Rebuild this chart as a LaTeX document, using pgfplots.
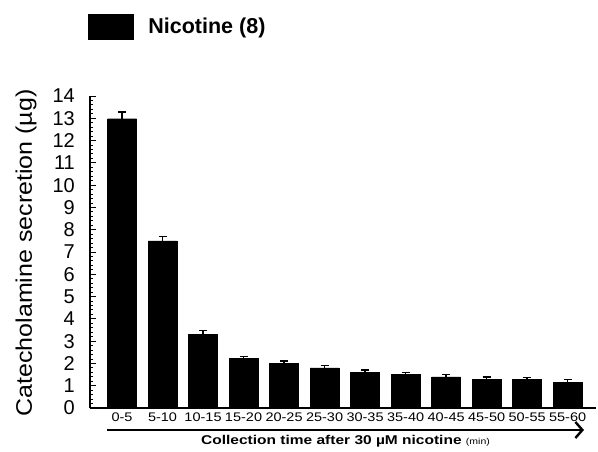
\documentclass[border=0pt]{standalone}
\usepackage{fontspec}
\setmainfont{Liberation Sans}
\usepackage{pgfplots}
\pgfplotsset{compat=1.18}
\usepackage{pgfplotstable}
\usetikzlibrary{arrows.meta}
\pgfplotstableread{
x y err
0 12.98 0.30
1 7.50 0.20
2 3.30 0.18
3 2.22 0.10
4 2.01 0.10
5 1.80 0.10
6 1.60 0.10
7 1.50 0.10
8 1.40 0.10
9 1.29 0.10
10 1.28 0.10
11 1.16 0.12
}\datatable
\begin{document}
\begin{tikzpicture}
\useasboundingbox (-90pt,-44pt) rectangle (508pt,408pt);
\begin{axis}[
  at={(0pt,0pt)}, anchor=south west,
  scale only axis, width=506pt, height=312pt,
  xmin=-0.79, xmax=11.7, ymin=0, ymax=14,
  axis x line*=bottom, axis y line*=left,
  axis line style={-, line width=1.2pt},
  ytick={0,1,...,14}, minor y tick num=4,
  tick align=inside,
  major tick length=6pt, minor tick length=3.5pt,
  every tick/.style={black, line width=0.9pt},
  xtick={0,...,11}, xtick style={draw=none},
  xticklabels={0-5,5-10,10-15,15-20,20-25,25-30,30-35,35-40,40-45,45-50,50-55,55-60},
  /pgf/number format/assume math mode=true,
  yticklabel shift=13pt,
  xticklabel shift=3pt,
  y tick label style={font=\fontsize{20}{20}\selectfont, inner sep=2pt, anchor=east},
  x tick label style={font=\fontsize{14.5}{14.5}\selectfont, inner sep=2pt, anchor=north, yscale=0.86},
  ylabel={Catecholamine secretion (µg)},
  ylabel style={font=\fontsize{25}{25}\selectfont, yscale=0.9,
    at={([xshift=-58pt]axis description cs:0,0.497)}, anchor=base},
  xlabel={{\bfseries Collection time after 30 µM nicotine} {\fontsize{10.5}{10.5}\selectfont (min)}},
  xlabel style={font=\fontsize{15.5}{15.5}\selectfont, yscale=0.82,
    at={([yshift=-33pt]axis description cs:0.505,0)}, anchor=center},
  legend style={at={(axis description cs:-0.004,1.2228)}, anchor=west, draw=none, fill=none,
    inner sep=0pt, outer sep=0pt, font=\fontsize{21.5}{21.5}\selectfont\bfseries,
    nodes={inner sep=0pt}, column sep=0pt},
  legend image code/.code={\fill[black] (0pt,-12.5pt) rectangle (45pt,12.5pt); \path (60pt,0pt);},
  clip=false,
]
\addplot[ybar, bar width=29pt, fill=black, draw=black,
  error bars/.cd, y dir=plus, y explicit,
  error bar style={line width=1.3pt, black},
  error mark options={rotate=90, mark size=4pt, line width=1.3pt}]
  table[x=x, y=y, y error=err] {\datatable};
\addlegendentry{Nicotine (8)}
\draw[line width=2.6pt, -{Straight Barb[length=7pt,width=16pt,line width=2.4pt]}]
  ([xshift=17pt,yshift=-22pt]axis description cs:0,0) -- ([xshift=494pt,yshift=-22pt]axis description cs:0,0);
\end{axis}
\end{tikzpicture}
\end{document}
